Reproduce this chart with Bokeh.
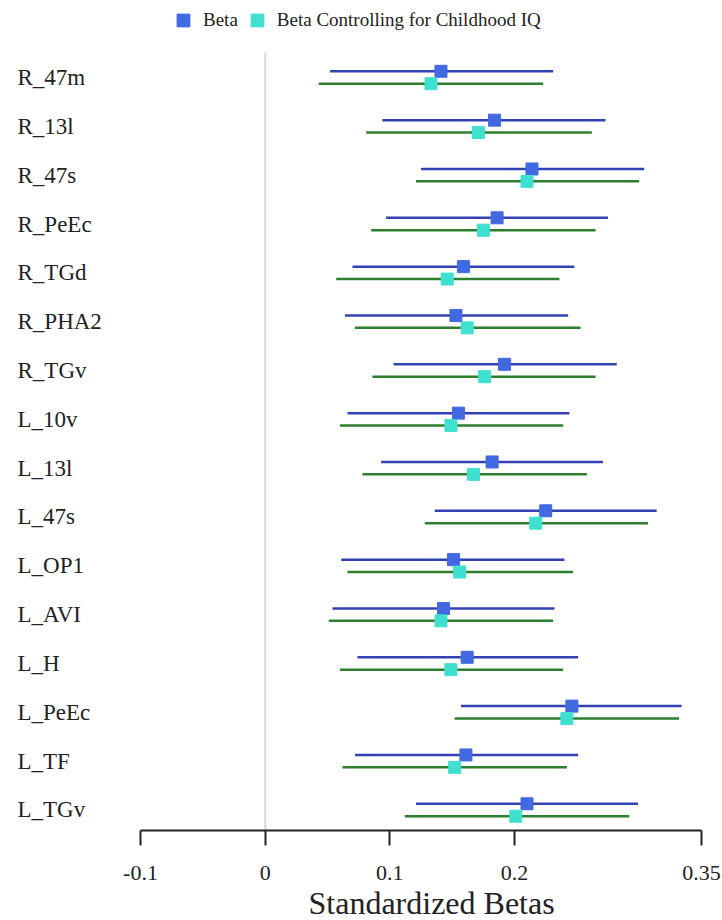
from bokeh.plotting import figure
from bokeh.models import (Range1d, ColumnDataSource, FixedTicker, Legend, LegendItem,
                          LabelSet, Title)
from bokeh.core.properties import value
from bokeh.embed import file_html
from bokeh.resources import INLINE

# ---- data ----
regions = ["R_47m", "R_13l", "R_47s", "R_PeEc", "R_TGd", "R_PHA2", "R_TGv", "L_10v",
           "L_13l", "L_47s", "L_OP1", "L_AVI", "L_H", "L_PeEc", "L_TF", "L_TGv"]
beta =    [0.141, 0.184, 0.214, 0.186, 0.159, 0.153, 0.192, 0.155, 0.182, 0.225, 0.151, 0.143, 0.162, 0.246, 0.161, 0.210]
beta_lo = [0.052, 0.094, 0.125, 0.097, 0.070, 0.064, 0.103, 0.066, 0.093, 0.136, 0.061, 0.054, 0.074, 0.157, 0.072, 0.121]
beta_hi = [0.231, 0.273, 0.304, 0.275, 0.248, 0.243, 0.282, 0.244, 0.271, 0.314, 0.240, 0.232, 0.251, 0.334, 0.251, 0.299]
beta_iq = [0.133, 0.171, 0.210, 0.175, 0.146, 0.162, 0.176, 0.149, 0.167, 0.217, 0.156, 0.141, 0.149, 0.242, 0.152, 0.201]
iq_lo =   [0.043, 0.081, 0.121, 0.085, 0.057, 0.072, 0.086, 0.060, 0.078, 0.128, 0.066, 0.051, 0.060, 0.152, 0.062, 0.112]
iq_hi =   [0.223, 0.262, 0.300, 0.265, 0.236, 0.253, 0.265, 0.239, 0.258, 0.307, 0.247, 0.231, 0.239, 0.332, 0.242, 0.292]
x_ticks = [-0.1, 0, 0.1, 0.2, 0.35]
x_tick_labels = ["-0.1", "0", "0.1", "0.2", "0.35"]
series_names = ["Beta", "Beta Controlling for Childhood IQ"]
x_title = "Standardized Betas"

FONT = "Liberation Serif"
TXT = "#222222"
n = len(regions)
pos = [n - 1 - i for i in range(n)]
off = 0.127

X0, X1 = -0.2123, 0.3668
Y0, Y1 = -0.42, 16.577

p = figure(width=722, height=920, output_backend="svg", toolbar_location=None,
           x_range=Range1d(X0, X1), y_range=Range1d(Y0, Y1), y_axis_location=None,
           min_border_left=0, min_border_right=0, min_border_top=0, min_border_bottom=0)
p.grid.visible = False
p.outline_line_color = None
p.background_fill_color = "white"

# zero reference line
p.segment(x0=[0], x1=[0], y0=[Y0], y1=[15.512], line_color="#d9d9d9", line_width=2)

src_b = ColumnDataSource(dict(y=[v + off for v in pos], x=beta, lo=beta_lo, hi=beta_hi))
src_g = ColumnDataSource(dict(y=[v - off for v in pos], x=beta_iq, lo=iq_lo, hi=iq_hi))

p.segment(x0="lo", x1="hi", y0="y", y1="y", source=src_b, line_color="#3341b4", line_width=2.5)
p.segment(x0="lo", x1="hi", y0="y", y1="y", source=src_g, line_color="#2d7f2d", line_width=2.5)
rb = p.scatter(x="x", y="y", source=src_b, marker="square", size=12,
               fill_color="#4169e1", line_color="#4169e1")
rg = p.scatter(x="x", y="y", source=src_g, marker="square", size=12,
               fill_color="#40e0d0", line_color="#40e0d0")

# row labels
lab_src = ColumnDataSource(dict(x=[X0] * n, y=pos, text=regions))
p.add_layout(LabelSet(x="x", y="y", text="text", source=lab_src, x_offset=17,
                      text_font=value(FONT), text_font_size="23px", text_color=TXT,
                      text_baseline="middle", text_align="left"))

ax = p.xaxis[0]
ax.bounds = (x_ticks[0], x_ticks[-1])
ax.ticker = FixedTicker(ticks=x_ticks)
ax.major_label_overrides = {t: l for t, l in zip(x_ticks, x_tick_labels)}
ax.minor_tick_line_color = None
ax.axis_line_width = 2
ax.axis_line_color = TXT
ax.major_tick_line_width = 2
ax.major_tick_line_color = TXT
ax.major_tick_out = 15
ax.major_tick_in = 0
ax.major_label_standoff = 20
ax.major_label_text_font = FONT
ax.major_label_text_font_size = "22px"
ax.major_label_text_color = TXT

# axis title, in its own panel under the axis
p.add_layout(Title(text=x_title, align="left", offset=308, standoff=0,
                   text_font=FONT, text_font_size="32px", text_font_style="normal",
                   text_color=TXT), "below")

legend = Legend(items=[LegendItem(label=series_names[0], renderers=[rb]),
                       LegendItem(label=series_names[1], renderers=[rg])],
                location=(167, 794), orientation="horizontal",
                glyph_width=32, glyph_height=32, label_standoff=4, spacing=3,
                padding=0, margin=0, border_line_alpha=0, background_fill_alpha=0,
                label_text_font=FONT, label_text_font_size="19px", label_text_color=TXT)
p.add_layout(legend)

open("out.html", "w").write(file_html(p, INLINE))
